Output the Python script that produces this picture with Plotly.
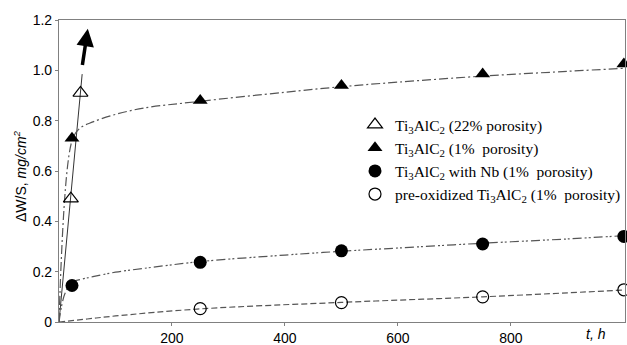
import plotly.graph_objects as go

# ---- data ----
t_p22 = [21, 38]
w_p22 = [0.49, 0.91]
fit_p22_t = [0, 21, 38, 41]
fit_p22_w = [0, 0.49, 0.91, 0.985]

t_p1 = [23, 250, 500, 750, 1000]
w_p1 = [0.73, 0.88, 0.94, 0.985, 1.025]
fit_p1_t = [0, 23, 37, 60, 100, 150, 250, 400, 500, 600, 750, 900, 1000]
fit_p1_w = [0, 0.72, 0.77, 0.795, 0.825, 0.85, 0.877, 0.913, 0.935, 0.953, 0.977, 0.996, 1.008]

t_nb = [23, 250, 500, 750, 1000]
w_nb = [0.145, 0.237, 0.283, 0.31, 0.34]
fit_nb_t = [0, 10, 23, 40, 60, 100, 150, 250, 400, 500, 600, 750, 900, 1000]
fit_nb_w = [0, 0.11, 0.158, 0.17, 0.18, 0.198, 0.213, 0.24, 0.266, 0.281, 0.294, 0.313, 0.33, 0.343]

t_pre = [250, 500, 750, 1000]
w_pre = [0.053, 0.077, 0.1, 0.128]
fit_pre_t = [0, 50, 100, 250, 500, 750, 1000]
fit_pre_w = [0, 0.012, 0.024, 0.052, 0.078, 0.1, 0.127]

arrow_from = (41, 1.015)
arrow_to = (51, 1.165)

x_ticks = [200, 400, 600, 800]
y_ticks = [0, 0.2, 0.4, 0.6, 0.8, 1.0, 1.2]
y_ticktext = ["0", "0.2", "0.4", "0.6", "0.8", "1.0", "1.2"]

labels = [
    "Ti<sub>3</sub>AlC<sub>2</sub> (22% porosity)",
    "Ti<sub>3</sub>AlC<sub>2</sub> (1%  porosity)",
    "Ti<sub>3</sub>AlC<sub>2</sub> with Nb (1%  porosity)",
    "pre-oxidized Ti<sub>3</sub>AlC<sub>2</sub> (1%  porosity)",
]

fig = go.Figure()

line_col = "#555555"
# fit lines
fig.add_trace(go.Scatter(x=fit_p22_t, y=fit_p22_w, mode="lines",
                         line=dict(color="#333333", width=1), showlegend=False))
fig.add_trace(go.Scatter(x=fit_p1_t, y=fit_p1_w, mode="lines", line_shape="spline",
                         line=dict(color=line_col, width=1.2, dash="9px,3px,2px,3px"), showlegend=False))
fig.add_trace(go.Scatter(x=fit_nb_t, y=fit_nb_w, mode="lines", line_shape="spline",
                         line=dict(color=line_col, width=1.2, dash="9px,3px,2px,2px,2px,3px"), showlegend=False))
fig.add_trace(go.Scatter(x=fit_pre_t, y=fit_pre_w, mode="lines", line_shape="spline",
                         line=dict(color=line_col, width=1.2, dash="6px,3px"), showlegend=False))

# markers
fig.add_trace(go.Scatter(x=t_p22, y=w_p22, mode="markers", name=labels[0], cliponaxis=False,
                         marker=dict(symbol="triangle-up-open", size=13, color="black", line=dict(width=1.2))))
fig.add_trace(go.Scatter(x=t_p1, y=w_p1, mode="markers", name=labels[1], cliponaxis=False,
                         marker=dict(symbol="triangle-up", size=13, color="black")))
fig.add_trace(go.Scatter(x=t_nb, y=w_nb, mode="markers", name=labels[2], cliponaxis=False,
                         marker=dict(symbol="circle", size=13, color="black")))
fig.add_trace(go.Scatter(x=t_pre, y=w_pre, mode="markers", name=labels[3], cliponaxis=False,
                         marker=dict(symbol="circle-open", size=12, color="black", line=dict(width=1.2))))

fig.add_annotation(x=arrow_to[0], y=arrow_to[1], ax=arrow_from[0], ay=arrow_from[1],
                   xref="x", yref="y", axref="x", ayref="y", text="", showarrow=True,
                   arrowhead=2, arrowsize=1.0, arrowwidth=3.5, arrowcolor="black")

fig.add_annotation(x=950, y=0, xref="x", yref="y", yshift=-12, text="<i>t, h</i>",
                   showarrow=False, font=dict(family="Liberation Sans, Arial", size=14, color="black"))

W, H = 627, 345
L, R, T, B = 59, 2, 20, 23
pw, ph = W - L - R, H - T - B


def px_to_paper(xs, ys):
    return (xs - L) / pw, 1 - (ys - T) / ph


ytx, yty = px_to_paper(20, 176)
fig.add_annotation(x=ytx, y=yty, xref="paper", yref="paper", textangle=-90,
                   xanchor="center", yanchor="middle",
                   text="ΔW/S, <i>mg/cm<sup>2</sup></i>", showarrow=False,
                   font=dict(family="Liberation Sans, Arial", size=14, color="black"))

axis_common = dict(showgrid=False, zeroline=False, showline=True, linecolor="#808080", linewidth=1.2,
                   mirror=True, ticks="outside", ticklen=3, tickcolor="#808080",
                   tickfont=dict(family="Liberation Sans, Arial", size=14, color="black"))
fig.update_xaxes(range=[0, 1002], tickvals=x_ticks, **axis_common)
fig.update_yaxes(range=[0, 1.2], tickvals=y_ticks, ticktext=y_ticktext, **axis_common)

lgx, lgy = px_to_paper(355, 108)

fig.update_layout(
    width=W, height=H,
    margin=dict(l=L, r=R, t=T, b=B, autoexpand=False),
    plot_bgcolor="white", paper_bgcolor="white",
    legend=dict(x=lgx, y=lgy, xanchor="left", yanchor="top",
                bgcolor="rgba(0,0,0,0)", tracegroupgap=0, itemwidth=30,
                font=dict(family="Liberation Serif, Times New Roman", size=15.5, color="black")),
)

# remove the default 8px page margin so the figure sits at the window's corner
fig.write_html("out.html", config={"displayModeBar": False},
               post_script="document.documentElement.style.margin='0';document.body.style.margin='0';document.body.style.overflow='hidden';")
